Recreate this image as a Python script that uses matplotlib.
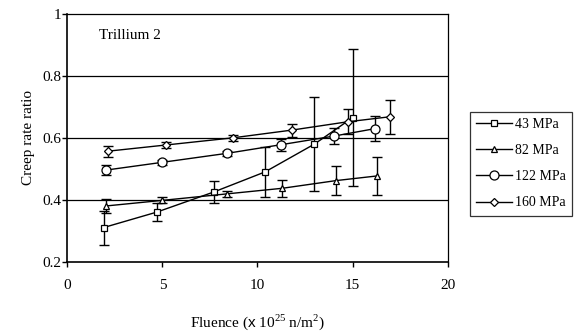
import matplotlib
matplotlib.use("Agg")
import matplotlib.pyplot as plt

plt.rcParams['font.family'] = ['Liberation Serif', 'DejaVu Serif']
plt.rcParams['mathtext.fontset'] = 'custom'
plt.rcParams['mathtext.rm'] = 'Liberation Serif'
plt.rcParams['mathtext.bf'] = 'Liberation Sans'

# Creep rate ratio vs fluence, one series per stress level
labels = ['43 MPa', '82 MPa', '122 MPa', '160 MPa']
markers = ['s', '^', 'o', 'D']
msizes = [4.5, 5, 6.5, 4]

x_43 = [1.9, 4.7, 7.7, 10.4, 13.0, 15.0]
y_43 = [0.31, 0.36, 0.425, 0.49, 0.58, 0.665]
e_43 = [0.055, 0.03, 0.035, 0.082, 0.152, 0.222]

x_82 = [2.05, 5.0, 8.4, 11.3, 14.15, 16.3]
y_82 = [0.38, 0.398, 0.419, 0.437, 0.462, 0.477]
e_82 = [0.023, 0.01, 0.01, 0.028, 0.046, 0.062]

x_122 = [2.05, 5.0, 8.4, 11.25, 14.05, 16.2]
y_122 = [0.496, 0.521, 0.55, 0.578, 0.606, 0.63]
e_122 = [0.015, 0.008, 0.008, 0.019, 0.026, 0.04]

x_160 = [2.15, 5.2, 8.7, 11.8, 14.75, 16.95]
y_160 = [0.557, 0.577, 0.6, 0.625, 0.652, 0.668]
e_160 = [0.018, 0.01, 0.01, 0.021, 0.04, 0.054]

xs = [x_43, x_82, x_122, x_160]
ys = [y_43, y_82, y_122, y_160]
es = [e_43, e_82, e_122, e_160]

fig = plt.figure(figsize=(5.76, 3.35), dpi=100)
ax = fig.add_axes([0.117, 0.219, 0.66, 0.739])

for y in [0.4, 0.6, 0.8]:
    ax.axhline(y, color='black', lw=0.9, zorder=1)

handles = []
for x, y, e, m, ms, lab in zip(xs, ys, es, markers, msizes, labels):
    ax.errorbar(x, y, yerr=e, fmt='none', ecolor='black', elinewidth=1.0,
                capsize=3.5, capthick=1.0, zorder=2)
    h, = ax.plot(x, y, color='black', lw=1.0, marker=m, markersize=ms,
                 markerfacecolor='white', markeredgecolor='black',
                 markeredgewidth=0.9, label=lab, zorder=3)
    handles.append(h)

ax.set_xlim(0, 20)
ax.set_ylim(0.2, 1.0)
ax.set_xticks([0, 5, 10, 15, 20])
ax.set_yticks([0.2, 0.4, 0.6, 0.8, 1.0])
ax.set_yticklabels(['0.2', '0.4', '0.6', '0.8', '1'])
ax.tick_params(direction='out', length=3.5, width=1, labelsize=11, colors='black')
ax.tick_params(axis='x', pad=9)
ax.tick_params(axis='y', pad=1)
for s in ax.spines.values():
    s.set_linewidth(0.9)
ax.spines['left'].set_linewidth(1.2)
ax.spines['bottom'].set_linewidth(1.2)

ax.text(3.3, 0.932, 'Trillium 2', fontsize=11, ha='center', va='center')
ax.set_ylabel('Creep rate ratio', fontsize=11, labelpad=5)
ax.set_xlabel(r'Fluence ($\mathbf{x}$ 10$^{25}$ n/m$^{2}$)', fontsize=11, labelpad=15)

leg = fig.legend(handles=handles, loc='upper left', bbox_to_anchor=(0.816, 0.667),
                 fontsize=10, frameon=True, fancybox=False, edgecolor='black',
                 handlelength=2.6, handletextpad=0.2, labelspacing=0.95,
                 borderpad=0.45, borderaxespad=0)
leg.get_frame().set_linewidth(0.9)

fig.savefig('out.png', dpi=100)
